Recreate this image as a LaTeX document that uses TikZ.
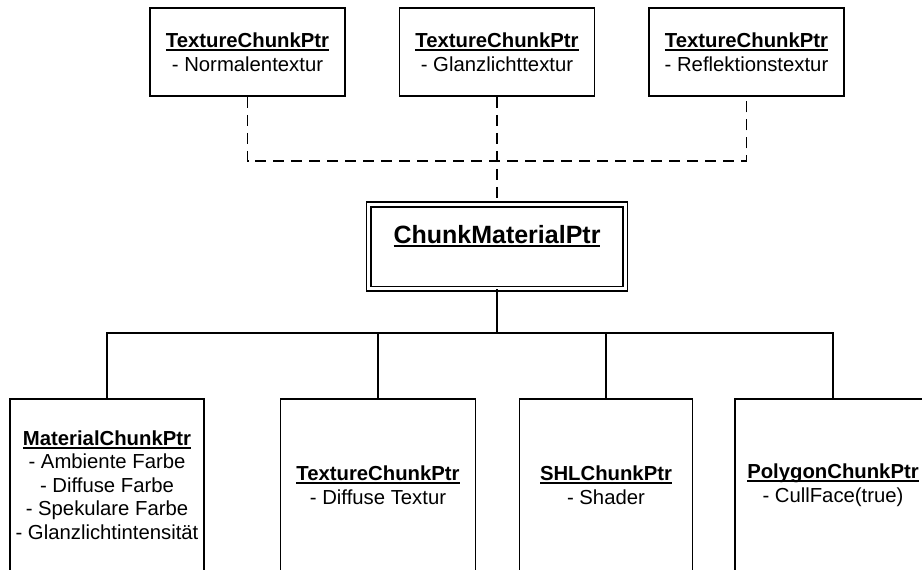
\documentclass[tikz,border=0pt]{standalone}
\usepackage{fontspec}
\setmainfont{Liberation Sans}
% bold title with a rule set a fixed distance below the baseline
\newcommand\ulbold[1]{\setbox0\hbox{\bfseries #1}\rlap{\rule[-0.16em]{\wd0}{0.07em}}\box0}
\begin{document}
\begin{tikzpicture}[x=1pt,y=-1pt,
  chunk/.style={draw, line width=1.5pt, align=center, inner sep=0pt,
    font=\fontsize{20.3}{23.5}\selectfont},
  topbox/.style={chunk, minimum width=195pt, minimum height=88pt},
  lowbox/.style={chunk, minimum height=172pt},
  link/.style={line width=1.6pt},
  dlink/.style={line width=1.5pt, dash pattern=on 11pt off 7pt}]
\clip (0,0) rectangle (922,570);
\useasboundingbox (0,0) rectangle (922,570);
\fill[white] (0,0) rectangle (922,570);

% texture chunks on top
\node[topbox] (t1) at (247.5,52) {\ulbold{TextureChunkPtr}\\- Normalentextur};
\node[topbox] (t2) at (497,52) {\ulbold{TextureChunkPtr}\\- Glanzlichttextur};
\node[topbox] (t3) at (746.5,52) {\ulbold{TextureChunkPtr}\\- Reflektionstextur};

% the material itself
\node[draw, double, double distance=3.5pt, line width=1.3pt,
      minimum width=256.6pt, minimum height=84.1pt, inner sep=0pt,
      text height=18pt, text depth=25pt,
      font=\fontsize{25}{30}\selectfont] (cm) at (497,246.5) {\ulbold{ChunkMaterialPtr}};

% chunks below
\node[lowbox, minimum width=194pt] (b1) at (107,485)
  {\ulbold{MaterialChunkPtr}\\- Ambiente Farbe\\- Diffuse Farbe\\- Spekulare Farbe\\- Glanzlichtintensität};
\node[lowbox, minimum width=195pt] (b2) at (378,485) {\ulbold{TextureChunkPtr}\\- Diffuse Textur};
\node[lowbox, minimum width=173pt] (b3) at (606,485) {\ulbold{SHLChunkPtr}\\- Shader};
\node[lowbox, minimum width=196pt] (b4) at (833,485) {\ulbold{PolygonChunkPtr}\\- CullFace(true)};

% junctions
\coordinate (dj) at (497,161);
\coordinate (sj) at (497,333);

% dashed texture links
\draw[dlink] (t1.south) -- (t1.south |- dj) -- (t3.south |- dj) -- (t3.south);
\draw[dlink] (t2.south) -- (cm.north);

% solid links to the lower chunks
\draw[link, line width=2pt] (cm.south) -- (sj);
\draw[link] (b1.north) -- (b1.north |- sj) -- (b4.north |- sj) -- (b4.north);
\draw[link] (b2.north) -- (b2.north |- sj);
\draw[link] (b3.north) -- (b3.north |- sj);
\end{tikzpicture}
\end{document}
